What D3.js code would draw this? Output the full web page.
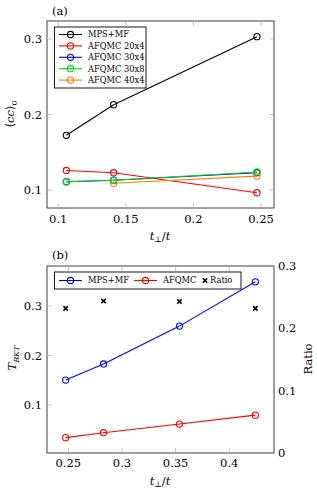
<!DOCTYPE html>
<html>
<head>
<meta charset="utf-8">
<script src="https://cdn.jsdelivr.net/npm/d3@7"></script>
<style>
  body { margin: 0; background: #fff; }
</style>
</head>
<body>
<div id="chart"></div>
<script>
// panel (a): <cc>_0 vs t_perp/t
var tA = [0.106, 0.141, 0.247];
var mpsA = [0.1725, 0.213, 0.303];
var afq20x4 = [0.126, 0.123, 0.0965];
var afq30x4 = [0.111, 0.113, 0.123];
var afq30x8 = [0.111, 0.113, 0.124];
var tA40 = [0.141, 0.247];
var afq40x4 = [0.109, 0.1185];
var ticksAx = [0.1, 0.15, 0.2, 0.25];
var ticksAy = [0.1, 0.2, 0.3];

// panel (b): T_BKT and ratio vs t_perp/t
var tB = [0.2475, 0.2828, 0.3536, 0.4243];
var mpsB = [0.1505, 0.183, 0.2595, 0.349];
var afqB = [0.034, 0.044, 0.0615, 0.0795];
var ratioB = [0.232, 0.244, 0.243, 0.232];
var ticksBx = [0.25, 0.3, 0.35, 0.4];
var ticksBy = [0.1, 0.2, 0.3];
var ticksBr = [0, 0.1, 0.2, 0.3];

var W = 317, H = 492;
var FONT = "DejaVu Serif";
var svg = d3.select("#chart").append("svg").attr("width", W).attr("height", H)
    .style("font-family", FONT);

var left = 47, right = 274;
var tickCol = "#b3b3b3", frameCol = "#404040";
var FS = 11.5, LFS = 8.3;

function frame(top, bottom) {
    svg.append("rect")
        .attr("x", left).attr("y", top)
        .attr("width", right - left).attr("height", bottom - top)
        .attr("fill", "none").attr("stroke", frameCol).attr("stroke-width", 1);
}

function xTicks(x, ticks, top, bottom, labelY) {
    var g = svg.append("g");
    ticks.forEach(function (t) {
        var px = x(t);
        g.append("line").attr("x1", px).attr("x2", px).attr("y1", bottom).attr("y2", bottom - 5)
            .attr("stroke", tickCol).attr("stroke-width", 0.8);
        g.append("line").attr("x1", px).attr("x2", px).attr("y1", top).attr("y2", top + 5)
            .attr("stroke", tickCol).attr("stroke-width", 0.8);
        g.append("text").attr("x", px).attr("y", labelY)
            .attr("text-anchor", "middle").attr("font-size", FS).text(d3.format("")(t));
    });
}

function yTicks(y, ticks, both, labelX) {
    var g = svg.append("g");
    ticks.forEach(function (t) {
        var py = y(t);
        g.append("line").attr("x1", left).attr("x2", left + 5).attr("y1", py).attr("y2", py)
            .attr("stroke", tickCol).attr("stroke-width", 0.8);
        if (both) {
            g.append("line").attr("x1", right).attr("x2", right - 5).attr("y1", py).attr("y2", py)
                .attr("stroke", tickCol).attr("stroke-width", 0.8);
        }
        g.append("text").attr("x", labelX).attr("y", py).attr("dy", "0.35em")
            .attr("text-anchor", "end").attr("font-size", FS).text(d3.format("")(t));
    });
}

function series(x, y, xs, ys, color) {
    var pts = xs.map(function (d, i) { return [x(d), y(ys[i])]; });
    svg.append("path")
        .attr("d", d3.line()(pts))
        .attr("fill", "none").attr("stroke", color).attr("stroke-width", 1.1);
    svg.append("g").selectAll("circle").data(pts).join("circle")
        .attr("cx", function (d) { return d[0]; })
        .attr("cy", function (d) { return d[1]; })
        .attr("r", 3.1)
        .attr("fill", "none").attr("stroke", color).attr("stroke-width", 1.1);
}

function xMark(g, cx, cy) {
    g.append("path")
        .attr("d", "M" + (cx - 2.2) + "," + (cy - 2.2) + "L" + (cx + 2.2) + "," + (cy + 2.2) +
            "M" + (cx + 2.2) + "," + (cy - 2.2) + "L" + (cx - 2.2) + "," + (cy + 2.2))
        .attr("stroke", "#000").attr("stroke-width", 1.6);
}

function legendEntry(g, x0, y0, color, label) {
    g.append("line").attr("x1", x0).attr("x2", x0 + 23).attr("y1", y0).attr("y2", y0)
        .attr("stroke", color).attr("stroke-width", 1.1);
    g.append("circle").attr("cx", x0 + 11.5).attr("cy", y0).attr("r", 3.1)
        .attr("fill", "none").attr("stroke", color).attr("stroke-width", 1.1);
    g.append("text").attr("x", x0 + 29).attr("y", y0).attr("dy", "0.35em")
        .attr("font-size", LFS).text(label);
}

// ---------- panel (a) ----------
var topA = 21, botA = 208;
var xA = d3.scaleLinear().domain([0.0917, 0.2596]).range([left, right]);
var yA = d3.scaleLinear().domain([0.0763, 0.3237]).range([botA, topA]);

frame(topA, botA);
xTicks(xA, ticksAx, topA, botA, 223);
yTicks(yA, ticksAy, true, 42);

series(xA, yA, tA, mpsA, "#000000");
series(xA, yA, tA, afq20x4, "#ff0000");
series(xA, yA, tA, afq30x4, "#0000ff");
series(xA, yA, tA40, afq40x4, "#ff8000");
series(xA, yA, tA, afq30x8, "#00e000");

var legA = svg.append("g");
legA.append("rect").attr("x", 54.5).attr("y", 27).attr("width", 91.5).attr("height", 61)
    .attr("fill", "#fff").attr("stroke", "#000").attr("stroke-width", 0.9);
[["MPS+MF", "#000000"], ["AFQMC 20x4", "#ff0000"], ["AFQMC 30x4", "#0000ff"],
 ["AFQMC 30x8", "#00e000"], ["AFQMC 40x4", "#ff8000"]].forEach(function (d, i) {
    legendEntry(legA, 59, 34.5 + i * 11.4, d[1], d[0]);
});

svg.append("text").attr("x", 52).attr("y", 15).attr("font-size", FS).text("(a)");
svg.append("text").attr("transform", "translate(14,114) rotate(-90)")
    .attr("text-anchor", "middle").attr("font-size", FS)
    .html('\u27E8<tspan font-style="italic">cc</tspan>\u27E9<tspan font-size="8" dy="3">0</tspan>');
svg.append("text").attr("x", 160).attr("y", 240).attr("text-anchor", "middle").attr("font-size", FS)
    .html('<tspan font-style="italic">t</tspan><tspan font-size="8" dy="2">\u22A5</tspan><tspan dy="-2">/</tspan><tspan font-style="italic">t</tspan>');

// ---------- panel (b) ----------
var topB = 266, botB = 453;
var xB = d3.scaleLinear().domain([0.2301, 0.4417]).range([left, right]);
var yB = d3.scaleLinear().domain([0.003, 0.381]).range([botB, topB]);
var yR = d3.scaleLinear().domain([0, 0.3]).range([botB, topB]);

frame(topB, botB);
xTicks(xB, ticksBx, topB, botB, 467);
yTicks(yB, ticksBy, false, 42);
var gr = svg.append("g");
ticksBr.forEach(function (t) {
    gr.append("text").attr("x", 278).attr("y", yR(t)).attr("dy", "0.35em")
        .attr("font-size", FS).text(d3.format("")(t));
});

series(xB, yB, tB, mpsB, "#0000ff");
series(xB, yB, tB, afqB, "#ff0000");
var gx = svg.append("g");
tB.forEach(function (t, i) { xMark(gx, xB(t), yR(ratioB[i])); });

var legB = svg.append("g");
legB.append("rect").attr("x", 54.5).attr("y", 272).attr("width", 186.5).attr("height", 17)
    .attr("fill", "#fff").attr("stroke", "#000").attr("stroke-width", 0.9);
legendEntry(legB, 59, 280.5, "#0000ff", "MPS+MF");
legendEntry(legB, 134, 280.5, "#ff0000", "AFQMC");
xMark(legB, 205, 280.5);
legB.append("text").attr("x", 210).attr("y", 280.5).attr("dy", "0.35em").attr("font-size", LFS).text("Ratio");

svg.append("text").attr("x", 52).attr("y", 259).attr("font-size", FS).text("(b)");
svg.append("text").attr("transform", "translate(16,358) rotate(-90)")
    .attr("text-anchor", "middle").attr("font-size", FS)
    .html('<tspan font-style="italic">T</tspan><tspan font-style="italic" font-size="8" dy="3">BKT</tspan>');
svg.append("text").attr("transform", "translate(312,359) rotate(-90)")
    .attr("text-anchor", "middle").attr("font-size", FS).text("Ratio");
svg.append("text").attr("x", 160).attr("y", 485).attr("text-anchor", "middle").attr("font-size", FS)
    .html('<tspan font-style="italic">t</tspan><tspan font-size="8" dy="2">\u22A5</tspan><tspan dy="-2">/</tspan><tspan font-style="italic">t</tspan>');
</script>
</body>
</html>
